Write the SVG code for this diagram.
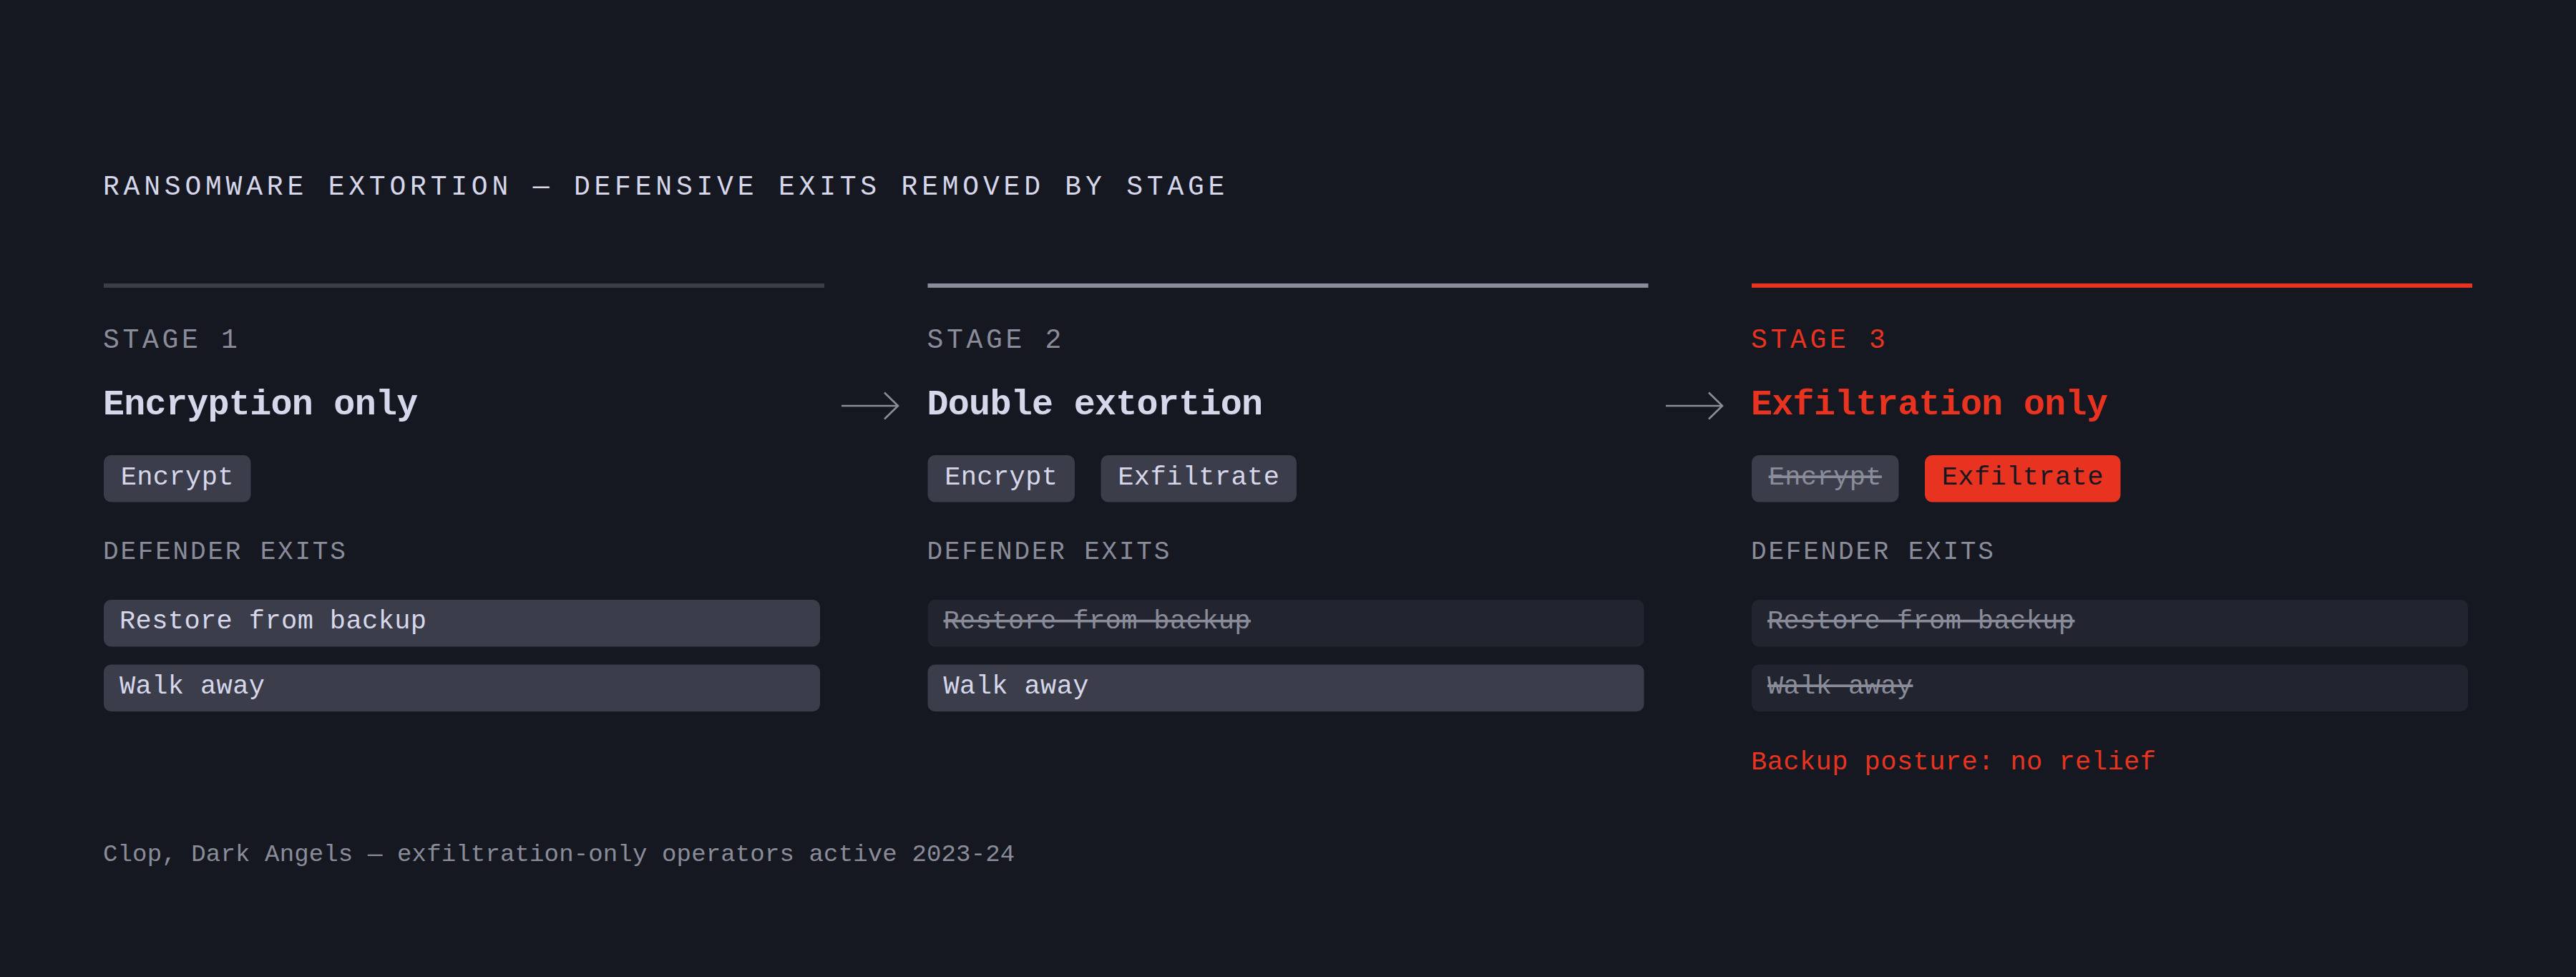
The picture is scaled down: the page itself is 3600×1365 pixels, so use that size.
<svg xmlns="http://www.w3.org/2000/svg" width="3600" height="1365" viewBox="0 0 3600 1365">
  <defs>
    <style>
      text { font-family: "Liberation Mono", "DejaVu Sans Mono", monospace; }
      .title { font-size: 38px; letter-spacing: 5.8px; fill: #d6d7ea; }
      .stage { font-size: 38px; letter-spacing: 4.7px; fill: #8a8c9a; }
      .head { font-size: 50px; font-weight: bold; letter-spacing: -0.7px; fill: #d6d7ea; }
      .label { font-size: 36px; letter-spacing: 2.8px; fill: #8a8c9a; }
      .chiptxt { font-size: 37px; letter-spacing: 0.4px; fill: #d6d7ea; text-anchor: middle; }
      .rowtxt { font-size: 37px; letter-spacing: 0.4px; fill: #d6d7ea; }
      .struck { fill: #8a8c9a; text-decoration: line-through; }
      .red { fill: #e7331f; }
      .dark { fill: #151820; }
      .chip { fill: #3b3d4a; }
      .chipred { fill: #e7331f; }
      .row { fill: #3b3d4a; }
      .rowoff { fill: #222530; }
      .note { font-size: 37px; letter-spacing: 0.45px; fill: #e7331f; }
      .foot { font-size: 34px; letter-spacing: 0.15px; fill: #8a8c9a; }
      .conn { stroke: #8a8c9a; stroke-width: 2.6; fill: none; }
    </style>
    <marker id="chev" markerUnits="userSpaceOnUse" viewBox="0 0 24 42" refX="21" refY="21" markerWidth="24" markerHeight="42" orient="auto">
      <path d="M2,2.5 L21,21 L2,39.5" fill="none" stroke="#8a8c9a" stroke-width="2.6"/>
    </marker>
  </defs>

  <rect x="0" y="0" width="3600" height="1365" fill="#151820"/>

  <g id="title">
    <text class="title" x="144" y="272">RANSOMWARE EXTORTION — DEFENSIVE EXITS REMOVED BY STAGE</text>
  </g>

  <g id="stage1">
    <rect x="145" y="396" width="1007" height="6" fill="#3b3d4a"/>
    <text class="stage" x="144" y="485.5">STAGE 1</text>
    <text class="head" x="144" y="578.5">Encryption only</text>
    <g id="stage1-encrypt">
      <rect class="chip" x="145" y="636" width="205.5" height="65.5" rx="10"/>
      <text class="chiptxt" x="247.75" y="676.5">Encrypt</text>
    </g>
    <text class="label" x="144" y="780.5">DEFENDER EXITS</text>
    <g id="stage1-restore">
      <rect class="row" x="145" y="838" width="1001" height="65.5" rx="10"/>
      <text class="rowtxt" x="167" y="878">Restore from backup</text>
    </g>
    <g id="stage1-walk">
      <rect class="row" x="145" y="928.5" width="1001" height="65.5" rx="10"/>
      <text class="rowtxt" x="167" y="968.5">Walk away</text>
    </g>
  </g>

  <g id="stage2">
    <rect x="1296.5" y="396" width="1007" height="6" fill="#8a8d9b"/>
    <text class="stage" x="1295.5" y="485.5">STAGE 2</text>
    <text class="head" x="1295.5" y="578.5">Double extortion</text>
    <g id="stage2-encrypt">
      <rect class="chip" x="1296.5" y="636" width="205.5" height="65.5" rx="10"/>
      <text class="chiptxt" x="1399.25" y="676.5">Encrypt</text>
    </g>
    <g id="stage2-exfiltrate">
      <rect class="chip" x="1538.5" y="636" width="273.5" height="65.5" rx="10"/>
      <text class="chiptxt" x="1675.25" y="676.5">Exfiltrate</text>
    </g>
    <text class="label" x="1295.5" y="780.5">DEFENDER EXITS</text>
    <g id="stage2-restore">
      <rect class="rowoff" x="1296.5" y="838" width="1001" height="65.5" rx="10"/>
      <text class="rowtxt struck" x="1318.5" y="878">Restore from backup</text>
    </g>
    <g id="stage2-walk">
      <rect class="row" x="1296.5" y="928.5" width="1001" height="65.5" rx="10"/>
      <text class="rowtxt" x="1318.5" y="968.5">Walk away</text>
    </g>
  </g>

  <g id="stage3">
    <rect x="2448" y="396" width="1007" height="6" fill="#e7331f"/>
    <text class="stage red" x="2447" y="485.5">STAGE 3</text>
    <text class="head red" x="2447" y="578.5">Exfiltration only</text>
    <g id="stage3-encrypt">
      <rect class="chip" x="2448" y="636" width="205.5" height="65.5" rx="10"/>
      <text class="chiptxt struck" x="2550.75" y="676.5">Encrypt</text>
    </g>
    <g id="stage3-exfiltrate">
      <rect class="chipred" x="2690" y="636" width="273.5" height="65.5" rx="10"/>
      <text class="chiptxt dark" x="2826.75" y="676.5">Exfiltrate</text>
    </g>
    <text class="label" x="2447" y="780.5">DEFENDER EXITS</text>
    <g id="stage3-restore">
      <rect class="rowoff" x="2448" y="838" width="1001" height="65.5" rx="10"/>
      <text class="rowtxt struck" x="2470" y="878">Restore from backup</text>
    </g>
    <g id="stage3-walk">
      <rect class="rowoff" x="2448" y="928.5" width="1001" height="65.5" rx="10"/>
      <text class="rowtxt struck" x="2470" y="968.5">Walk away</text>
    </g>
    <text class="note" x="2447" y="1075">Backup posture: no relief</text>
  </g>

  <g id="connectors">
    <line class="conn" x1="1176" y1="567" x2="1255" y2="567" marker-end="url(#chev)"/>
    <line class="conn" x1="2328" y1="567" x2="2407" y2="567" marker-end="url(#chev)"/>
  </g>

  <g id="footer">
    <text class="foot" x="144" y="1203">Clop, Dark Angels — exfiltration-only operators active 2023-24</text>
  </g>
</svg>
